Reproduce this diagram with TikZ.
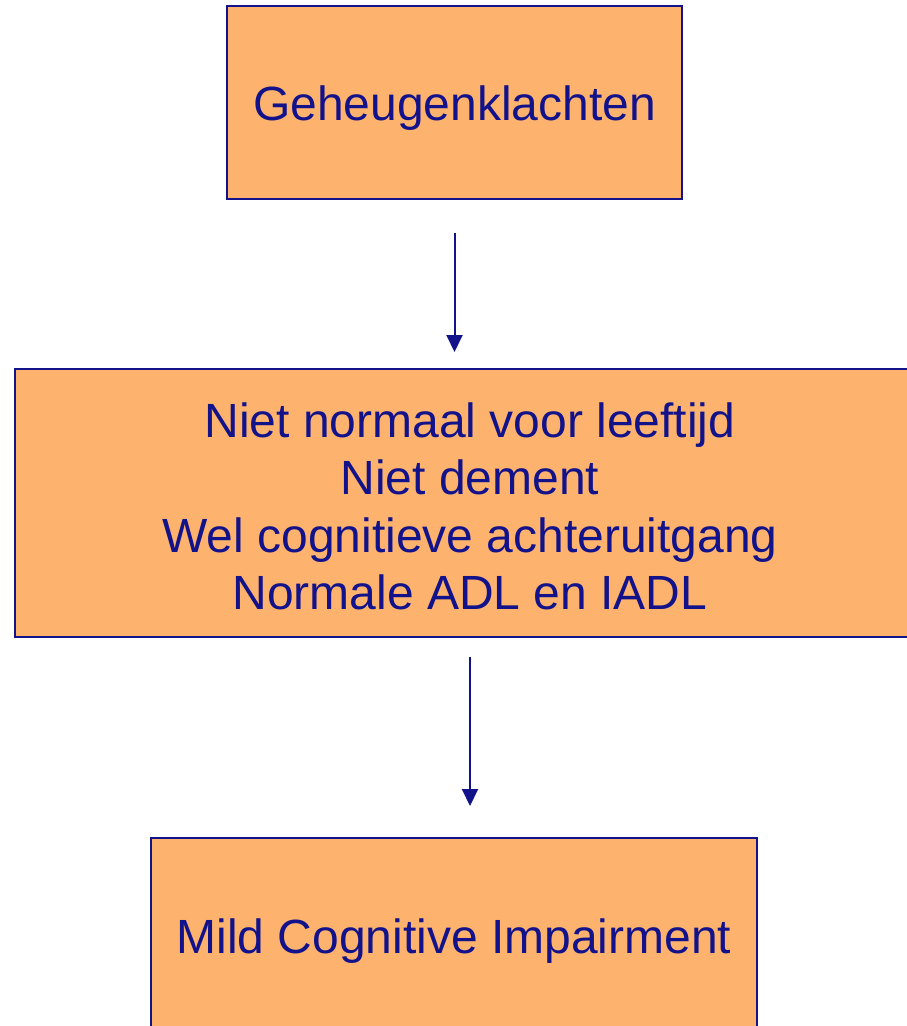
\documentclass[tikz,border=0pt]{standalone}
\usepackage{fontspec}
\setmainfont{Liberation Sans}
\usetikzlibrary{arrows.meta}
\definecolor{boxfill}{HTML}{FDB36E}
\definecolor{navy}{HTML}{12128A}
\tikzset{
  flowbox/.style={draw=navy, line width=2pt, fill=boxfill, rectangle, inner sep=0pt,
    text=navy, align=center, font=\fontsize{48}{57.5}\selectfont},
  flowarrow/.style={draw=navy, line width=2pt, -{Triangle[width=16pt,length=17pt]}}
}
\begin{document}
\begin{tikzpicture}[x=1pt,y=-1pt]
\useasboundingbox (0,0) rectangle (907,1026);
\clip (0,0) rectangle (907,1026);
\node[flowbox, minimum width=455pt, minimum height=193pt] (top) at (454.5,102.5) {\rule{0pt}{46pt}Geheugenklachten};
\node[flowbox, minimum width=910pt, minimum height=268pt] (mid) at (470,503)
  {\rule{0pt}{41pt}Niet normaal voor leeftijd\\Niet dement\\Wel cognitieve achteruitgang\\Normale ADL en IADL};
\node[flowbox, minimum width=606pt, minimum height=194pt] (bot) at (454,935) {\rule{0pt}{47pt}Mild Cognitive Impairment};
\draw[flowarrow, shorten <=33pt, shorten >=16pt] (top.south) -- (top.south |- mid.north);
\draw[flowarrow, shorten <=19pt, shorten >=31pt] (mid.south) -- (mid.south |- bot.north);
\end{tikzpicture}
\end{document}
